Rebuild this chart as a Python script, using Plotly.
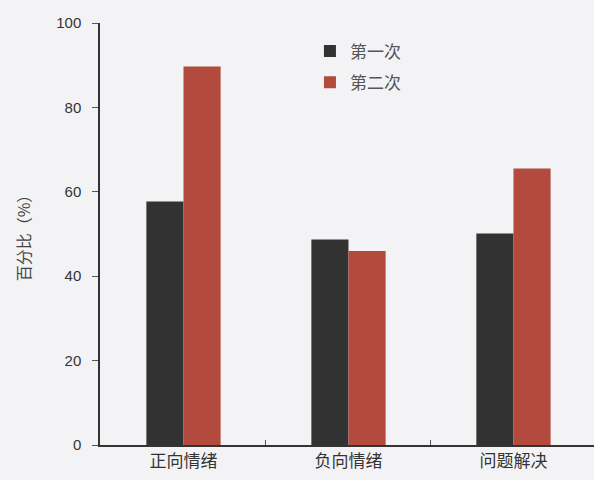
import plotly.graph_objects as go

categories = ["正向情绪", "负向情绪", "问题解决"]
first = [57.7, 48.7, 50.1]
second = [89.7, 46.0, 65.5]
series_names = ["第一次", "第二次"]
y_ticks = [0, 20, 40, 60, 80, 100]

fig = go.Figure()
fig.add_trace(go.Bar(x=categories, y=first, name=series_names[0], legendgroup="a",
                     marker=dict(color="#323232", line=dict(width=0))))
fig.add_trace(go.Bar(x=categories, y=second, name=series_names[1], legendgroup="b",
                     marker=dict(color="#b24a3d", line=dict(width=0))))

fig.update_layout(
    width=594, height=480,
    margin=dict(l=100, r=0, t=23, b=35),
    paper_bgcolor="#f3f3f5", plot_bgcolor="#f3f3f5",
    barmode="group", bargap=0.55, bargroupgap=0,
    font=dict(family="Liberation Sans, Arial", color="#333333"),
    legend=dict(x=0.425, y=0.975, xanchor="left", yanchor="top",
                bgcolor="rgba(0,0,0,0)", font=dict(size=17, family="Noto Sans CJK SC", color="#555555"),
                itemwidth=30, tracegroupgap=6),
    showlegend=True,
)
fig.update_xaxes(
    range=[-0.506, 2.488], showline=True, linecolor="#333333", linewidth=1.5,
    ticks="inside", tickson="boundaries", ticklen=5, tickcolor="#555555",
    tickfont=dict(size=17, family="Noto Sans CJK SC", color="#333333"),
    showgrid=False, zeroline=False,
)
fig.update_yaxes(
    range=[0, 100], tickvals=y_ticks, showline=True, linecolor="#333333", linewidth=1.5,
    ticks="outside", ticklen=6, tickcolor="#555555", ticklabelstandoff=8,
    tickfont=dict(size=15, color="#333333"),
    showgrid=False, zeroline=False,
    title=dict(text="百分比（%）", font=dict(size=16, family="Noto Sans CJK SC", color="#444444"), standoff=22),
)

fig.write_html("out.html")
